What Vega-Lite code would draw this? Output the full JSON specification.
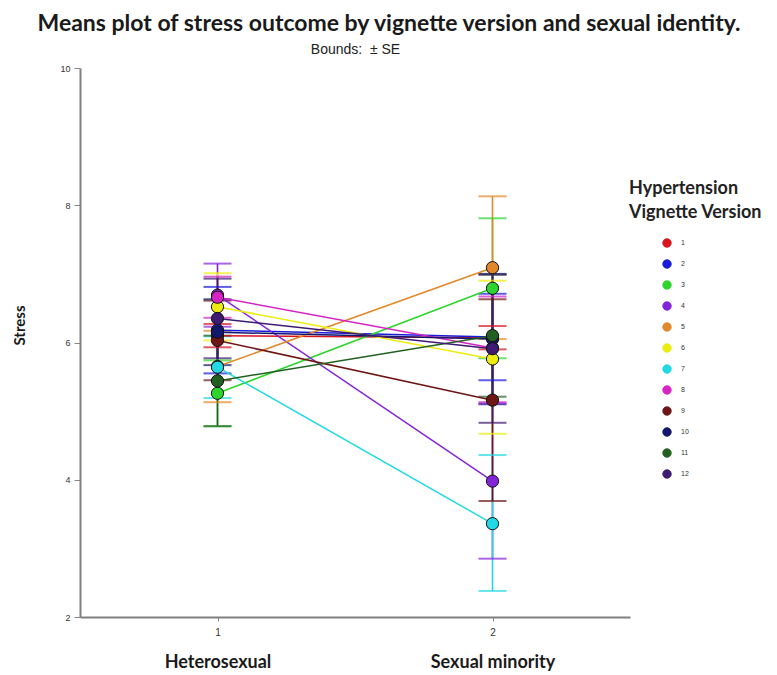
{
  "$schema": "https://vega.github.io/schema/vega-lite/v6.json",
  "width": 550,
  "height": 549,
  "autosize": "none",
  "padding": {"left": 80, "top": 68, "right": 147, "bottom": 58},
  "background": "white",
  "config": {"view": {"stroke": null}},
  "title": {
    "text": "Means plot of stress outcome by vignette version and sexual identity.",
    "anchor": "middle",
    "dx": 34,
    "offset": 6,
    "font": "Lato",
    "fontSize": 23,
    "fontWeight": "bold",
    "color": "#1a1a1a"
  },
  "datasets": {
    "means": [
      {"v": "1", "g": 1, "m": 6.10, "lo": 5.93, "hi": 6.27},
      {"v": "1", "g": 2, "m": 6.07, "lo": 5.90, "hi": 6.24},
      {"v": "2", "g": 1, "m": 6.18, "lo": 5.55, "hi": 6.81},
      {"v": "2", "g": 2, "m": 6.08, "lo": 5.45, "hi": 6.71},
      {"v": "3", "g": 1, "m": 5.26, "lo": 4.78, "hi": 5.74},
      {"v": "3", "g": 2, "m": 6.79, "lo": 5.77, "hi": 7.81},
      {"v": "4", "g": 1, "m": 6.69, "lo": 6.23, "hi": 7.15},
      {"v": "4", "g": 2, "m": 3.98, "lo": 2.85, "hi": 5.11},
      {"v": "5", "g": 1, "m": 5.65, "lo": 5.13, "hi": 6.17},
      {"v": "5", "g": 2, "m": 7.09, "lo": 6.05, "hi": 8.13},
      {"v": "6", "g": 1, "m": 6.52, "lo": 6.03, "hi": 7.01},
      {"v": "6", "g": 2, "m": 5.76, "lo": 4.67, "hi": 6.90},
      {"v": "7", "g": 1, "m": 5.64, "lo": 5.19, "hi": 6.09},
      {"v": "7", "g": 2, "m": 3.36, "lo": 2.38, "hi": 4.36},
      {"v": "8", "g": 1, "m": 6.66, "lo": 6.36, "hi": 6.96},
      {"v": "8", "g": 2, "m": 5.92, "lo": 5.13, "hi": 6.67},
      {"v": "9", "g": 1, "m": 6.03, "lo": 5.45, "hi": 6.61},
      {"v": "9", "g": 2, "m": 5.16, "lo": 3.69, "hi": 6.63},
      {"v": "10", "g": 1, "m": 6.15, "lo": 5.67, "hi": 6.63},
      {"v": "10", "g": 2, "m": 6.05, "lo": 5.10, "hi": 7.00},
      {"v": "11", "g": 1, "m": 5.44, "lo": 4.78, "hi": 6.10},
      {"v": "11", "g": 2, "m": 6.10, "lo": 5.21, "hi": 6.99},
      {"v": "12", "g": 1, "m": 6.35, "lo": 5.77, "hi": 6.93},
      {"v": "12", "g": 2, "m": 5.91, "lo": 4.83, "hi": 6.99}
    ]
  },
  "data": {"name": "means"},
  "resolve": {"axis": {"x": "independent"}},
  "encoding": {
    "color": {
      "field": "v",
      "type": "nominal",
      "scale": {
        "domain": ["1", "2", "3", "4", "5", "6", "7", "8", "9", "10", "11", "12"],
        "range": ["#d8141e", "#1a1ad8", "#2ed42e", "#8424d8", "#e2882a", "#ecec10", "#22d8e2", "#d624c4", "#6e1616", "#12186e", "#226022", "#3e1a72"]
      },
      "legend": {
        "title": ["Hypertension", "Vignette Version"],
        "orient": "none",
        "legendX": 549,
        "legendY": 112,
        "titleFont": "Lato",
        "titleFontSize": 18,
        "titleFontWeight": "bold",
        "titleColor": "#222222",
        "titleLineHeight": 24,
        "titlePadding": 16,
        "symbolType": "circle",
        "symbolSize": 70,
        "symbolStrokeColor": "#111111",
        "symbolStrokeWidth": 1,
        "symbolOpacity": 1,
        "symbolOffset": 33,
        "labelFont": "Liberation Sans",
        "labelFontSize": 7,
        "labelColor": "#333333",
        "labelOffset": 9,
        "rowPadding": 7
      }
    }
  },
  "layer": [
    {
      "mark": {"type": "rule", "strokeWidth": 1.6},
      "encoding": {
        "x": {
          "field": "g",
          "type": "quantitative",
          "scale": {"domain": [0.5, 2.5], "nice": false, "zero": false},
          "axis": {
            "orient": "bottom",
            "values": [1, 2],
            "labelExpr": "datum.value == 1 ? 'Heterosexual' : 'Sexual minority'",
            "labelFont": "Lato",
            "labelFontSize": 18,
            "labelFontWeight": "bold",
            "labelColor": "#1a1a1a",
            "labelPadding": 36,
            "domain": false,
            "ticks": false,
            "grid": false,
            "title": null
          }
        },
        "y": {
          "field": "lo",
          "type": "quantitative",
          "scale": {"domain": [2, 10], "nice": false, "zero": false},
          "axis": {
            "values": [2, 4, 6, 8, 10],
            "format": "d",
            "title": "Stress",
            "titleFont": "Lato",
            "titleFontSize": 15,
            "titleFontWeight": "bold",
            "titleColor": "#1a1a1a",
            "titlePadding": 32,
            "titleY": 257,
            "labelFont": "Liberation Sans",
            "labelFontSize": 9,
            "labelColor": "#333333",
            "labelPadding": 4,
            "tickSize": 6,
            "tickColor": "#888888",
            "domainColor": "#808080",
            "domainWidth": 2,
            "grid": false
          }
        },
        "y2": {"field": "hi"}
      }
    },
    {
      "mark": {"type": "tick", "orient": "horizontal", "size": 28, "thickness": 2},
      "encoding": {
        "x": {"field": "g", "type": "quantitative", "scale": {"domain": [0.5, 2.5], "nice": false, "zero": false}, "axis": null},
        "y": {"field": "lo", "type": "quantitative"}
      }
    },
    {
      "mark": {"type": "tick", "orient": "horizontal", "size": 28, "thickness": 2},
      "encoding": {
        "x": {"field": "g", "type": "quantitative", "scale": {"domain": [0.5, 2.5], "nice": false, "zero": false}, "axis": null},
        "y": {"field": "hi", "type": "quantitative"}
      }
    },
    {
      "mark": {"type": "line", "strokeWidth": 1.5},
      "encoding": {
        "x": {
          "field": "g",
          "type": "quantitative",
          "scale": {"domain": [0.5, 2.5], "nice": false, "zero": false},
          "axis": {
            "orient": "bottom",
            "values": [1, 2],
            "format": "d",
            "labelFont": "Liberation Sans",
            "labelFontSize": 10,
            "labelColor": "#333333",
            "labelPadding": 6,
            "tickSize": 4,
            "tickColor": "#888888",
            "domainColor": "#808080",
            "domainWidth": 2,
            "grid": false,
            "title": null
          }
        },
        "y": {"field": "m", "type": "quantitative"}
      }
    },
    {
      "mark": {"type": "point", "shape": "circle", "filled": true, "size": 150, "opacity": 1, "stroke": "#111111", "strokeWidth": 1},
      "encoding": {
        "x": {
          "field": "g",
          "type": "quantitative",
          "scale": {"domain": [0.5, 2.5], "nice": false, "zero": false},
          "axis": {
            "orient": "top",
            "labels": false,
            "ticks": false,
            "domain": false,
            "grid": false,
            "title": "Bounds:\u00a0\u00a0± SE",
            "titleFont": "Liberation Sans",
            "titleFontSize": 14,
            "titleFontWeight": "normal",
            "titleColor": "#222222",
            "titlePadding": 12
          }
        },
        "y": {"field": "m", "type": "quantitative"}
      }
    }
  ]
}
